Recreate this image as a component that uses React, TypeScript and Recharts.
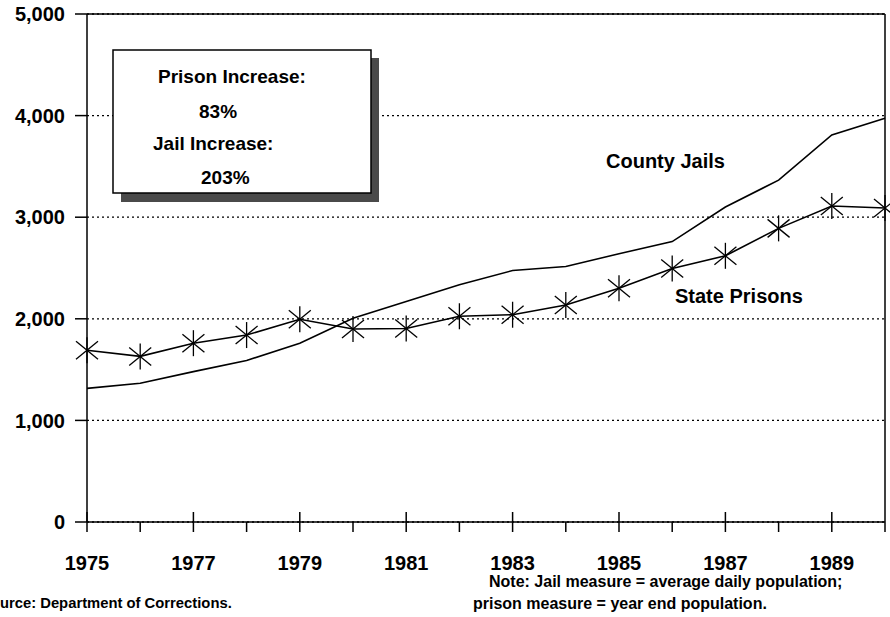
import React from "react";
import {
  LineChart,
  Line,
  XAxis,
  YAxis,
  CartesianGrid,
  ReferenceLine,
  Customized,
} from "recharts";

const years = [1975, 1976, 1977, 1978, 1979, 1980, 1981, 1982, 1983, 1984, 1985, 1986, 1987, 1988, 1989, 1990];
const statePrisons = [1690, 1630, 1760, 1840, 1995, 1900, 1905, 2025, 2040, 2135, 2300, 2495, 2620, 2890, 3110, 3090];
const countyJails = [1315, 1365, 1480, 1590, 1760, 2005, 2170, 2335, 2475, 2515, 2640, 2760, 3100, 3365, 3810, 3975];
const yTicks = [0, 1000, 2000, 3000, 4000, 5000];
const labeledYears = [1975, 1977, 1979, 1981, 1983, 1985, 1987, 1989];

const data = years.map((year, i) => ({
  year,
  prisons: statePrisons[i],
  jails: countyJails[i],
}));

const FONT = "'Liberation Sans', Arial, Helvetica, sans-serif";

const Star = (props: any) => {
  const { cx, cy } = props;
  if (cx == null || cy == null) return null;
  return (
    <g stroke="#000" strokeWidth={1.3}>
      <line x1={cx} y1={cy - 13} x2={cx} y2={cy + 13} />
      <line x1={cx - 11} y1={cy - 9} x2={cx + 11} y2={cy + 9} />
      <line x1={cx - 11} y1={cy + 9} x2={cx + 11} y2={cy - 9} />
    </g>
  );
};

const YearTick = (props: any) => {
  const { x, y, payload } = props;
  const year = payload.value;
  const major = labeledYears.includes(year);
  return (
    <g>
      <line x1={x} x2={x} y1={major ? y - 10 : y} y2={y + 10} stroke="#000" strokeWidth={1.5} />
      {major && (
        <text x={x} y={y + 48} textAnchor="middle" fontSize={20} fontWeight="bold" fontFamily={FONT} fill="#000">
          {year}
        </text>
      )}
    </g>
  );
};

const Notes = () => (
  <g fontFamily={FONT} fill="#000" fontWeight="bold">
    <rect x={121} y={58} width={258} height={144} fill="#4a4a4a" />
    <rect x={113} y={50} width={258} height={143} fill="#fff" stroke="#000" strokeWidth={1.5} />
    <text x={158} y={83} fontSize={19}>Prison Increase:</text>
    <text x={199} y={118} fontSize={19}>83%</text>
    <text x={153} y={150} fontSize={19}>Jail Increase:</text>
    <text x={201} y={184} fontSize={19}>203%</text>
    <text x={606} y={168} fontSize={20}>County Jails</text>
    <text x={675} y={303} fontSize={20}>State Prisons</text>
    <text x={489} y={587} fontSize={16}>Note:  Jail measure = average daily population;</text>
    <text x={473} y={609} fontSize={16}>prison measure = year end population.</text>
    <text x={-19} y={608} fontSize={14.8}>Source: Department of Corrections.</text>
  </g>
);

export default function App() {
  return (
    <div style={{ position: "absolute", left: 0, top: 0, background: "#fff" }}>
      <LineChart
        width={890}
        height={617}
        data={data}
        margin={{ top: 14, right: 5, bottom: 0, left: 0 }}
      >
        <CartesianGrid vertical={false} stroke="#000" strokeWidth={1.3} strokeDasharray="2 3" />
        <XAxis
          dataKey="year"
          type="number"
          domain={[1975, 1990]}
          ticks={years}
          height={95}
          stroke="#000"
          strokeWidth={1.5}
          tickLine={false}
          tickSize={0}
          tickMargin={0}
          tick={<YearTick />}
          interval={0}
        />
        <YAxis
          domain={[0, 5000]}
          ticks={yTicks}
          width={87}
          stroke="#000"
          strokeWidth={1.5}
          tickSize={12}
          tickMargin={10}
          tickFormatter={(v: number) => v.toLocaleString("en-US")}
          tick={{ fill: "#000", fontSize: 20, fontWeight: "bold", fontFamily: FONT }}
          interval={0}
        />
        <ReferenceLine y={5000} stroke="#000" strokeWidth={1.5} />
        <ReferenceLine x={1990} stroke="#000" strokeWidth={1.5} />
        <Line
          type="linear"
          dataKey="jails"
          stroke="#000"
          strokeWidth={1.6}
          dot={false}
          activeDot={false}
          isAnimationActive={false}
        />
        <Line
          type="linear"
          dataKey="prisons"
          stroke="#000"
          strokeWidth={1.6}
          dot={<Star />}
          activeDot={false}
          isAnimationActive={false}
        />
        <Customized component={Notes} />
      </LineChart>
    </div>
  );
}
